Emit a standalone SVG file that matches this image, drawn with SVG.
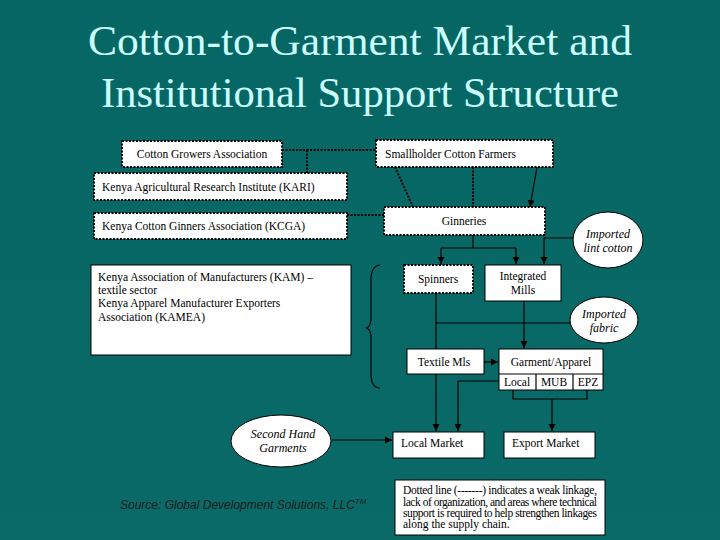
<svg xmlns="http://www.w3.org/2000/svg" width="720" height="540" viewBox="0 0 720 540">
<defs>
<marker id="ah" markerWidth="8" markerHeight="8" refX="7" refY="4" orient="auto" markerUnits="userSpaceOnUse">
<path d="M0,0.5 L7,4 L0,7.5 Z" fill="#000"/>
</marker>
<linearGradient id="bg" x1="0" y1="0" x2="0" y2="1">
<stop offset="0" stop-color="#066663"/>
<stop offset="1" stop-color="#0a6a67"/>
</linearGradient>
</defs>
<style>
text{font-family:'Liberation Serif','Times New Roman','DejaVu Serif',serif}
.title{font-size:43px;fill:#ccffff;text-anchor:middle}
.box{fill:#fff;stroke:#000;stroke-width:1}
.dbox{fill:#fff;stroke:#000;stroke-width:2;stroke-dasharray:2 1.5}
.t{font-size:11.5px;fill:#000}
.c{text-anchor:middle}
.i{font-style:italic;font-size:12px}
.ln{stroke:#000;stroke-width:1.2;fill:none}
.dl{stroke:#000;stroke-width:2;fill:none;stroke-dasharray:2 1.5}
.ell{fill:#fff;stroke:#000;stroke-width:1}
.src{font-family:'Liberation Sans',Arial,sans-serif;font-style:italic;font-size:12px;fill:#1a1a1a}
</style>
<rect x="0" y="0" width="720" height="540" fill="url(#bg)"/>
<text class="title" x="360" y="55" textLength="544" lengthAdjust="spacingAndGlyphs">Cotton-to-Garment Market and</text>
<text class="title" x="360" y="107" textLength="518" lengthAdjust="spacingAndGlyphs">Institutional Support Structure</text>

<g id="connectors">
<polyline class="dl" points="282,150 376,150"/>
<polyline class="dl" points="307,150 307,173"/>
<polyline class="dl" points="347,215 384,215"/>
<polyline class="dl" points="395,167 413,207"/>
<polyline class="dl" points="473,167 473,207"/>
<line class="ln" x1="537" y1="167" x2="530" y2="207" marker-end="url(#ah)"/>
<polyline class="ln" points="473,235 473,248"/>
<polyline class="ln" points="441,248 516,248"/>
<line class="ln" x1="441" y1="248" x2="441" y2="264" marker-end="url(#ah)"/>
<line class="ln" x1="516" y1="248" x2="516" y2="264" marker-end="url(#ah)"/>
<polyline class="ln" points="573,238 544,238 544,264" marker-end="url(#ah)"/>
<line class="ln" x1="436" y1="293" x2="436" y2="349"/>
<line class="ln" x1="436" y1="323" x2="570" y2="323"/>
<line class="ln" x1="524" y1="301" x2="524" y2="348" marker-end="url(#ah)"/>
<line class="ln" x1="484" y1="362" x2="498" y2="362" marker-end="url(#ah)"/>
<line class="ln" x1="436" y1="374" x2="436" y2="431" marker-end="url(#ah)"/>
<polyline class="ln" points="499,381 458,381 458,431" marker-end="url(#ah)"/>
<polyline class="ln" points="513,390 513,399 587,399 587,390"/>
<line class="ln" x1="552" y1="399" x2="552" y2="431" marker-end="url(#ah)"/>
<line class="ln" x1="332" y1="440" x2="392" y2="440" marker-end="url(#ah)"/>
<path class="ln" stroke-width="1.5" d="M380,265 Q371,266 371,280 L371,318 Q371,327 366,328 Q371,329 371,338 L371,374 Q371,388 380,388"/>
</g>

<g id="cotton-growers">
<rect class="dbox" x="122" y="141" width="160" height="26"/>
<text class="t c" x="202" y="158">Cotton Growers Association</text>
</g>
<g id="kari">
<rect class="dbox" x="94" y="173" width="253" height="27"/>
<text class="t" x="102" y="191">Kenya Agricultural Research Institute (KARI)</text>
</g>
<g id="kcga">
<rect class="dbox" x="94" y="213" width="253" height="26"/>
<text class="t" x="102" y="230">Kenya Cotton Ginners Association (KCGA)</text>
</g>
<g id="smallholder">
<rect class="dbox" x="376" y="140" width="177" height="27"/>
<text class="t" x="385" y="158">Smallholder Cotton Farmers</text>
</g>
<g id="ginneries">
<rect class="dbox" x="384" y="207" width="161" height="28"/>
<text class="t c" x="464" y="225">Ginneries</text>
</g>
<g id="imported-lint">
<ellipse class="ell" cx="608" cy="240" rx="35" ry="28"/>
<text class="t c i" x="608" y="238">Imported</text>
<text class="t c i" x="608" y="252">lint cotton</text>
</g>
<g id="spinners">
<rect class="dbox" x="404" y="265" width="69" height="28"/>
<text class="t c" x="438" y="283">Spinners</text>
</g>
<g id="integrated-mills">
<rect class="box" x="485" y="265" width="76" height="36"/>
<text class="t c" x="523" y="280">Integrated</text>
<text class="t c" x="523" y="294">Mills</text>
</g>
<g id="imported-fabric">
<ellipse class="ell" cx="604" cy="320" rx="34" ry="23"/>
<text class="t c i" x="604" y="318">Imported</text>
<text class="t c i" x="604" y="332">fabric</text>
</g>
<g id="kam">
<rect class="box" x="91" y="265" width="260" height="90" stroke-width="0.5"/>
<text class="t" x="98" y="281">Kenya Association of Manufacturers (KAM) –</text>
<text class="t" x="98" y="294">textile sector</text>
<text class="t" x="98" y="307">Kenya Apparel Manufacturer Exporters</text>
<text class="t" x="98" y="321">Association (KAMEA)</text>
</g>
<g id="textile-mills">
<rect class="box" x="407" y="349" width="77" height="25"/>
<text class="t c" x="444" y="366">Textile Mls</text>
</g>
<g id="garment">
<rect class="box" x="499" y="349" width="104" height="41"/>
<line class="ln" stroke-width="1" x1="499" y1="374" x2="603" y2="374"/>
<line class="ln" stroke-width="1" x1="536" y1="374" x2="536" y2="390"/>
<line class="ln" stroke-width="1" x1="573" y1="374" x2="573" y2="390"/>
<text class="t c" x="551" y="366">Garment/Apparel</text>
<text class="t c" x="517" y="386" font-size="8.5">Local</text>
<text class="t c" x="554" y="386" font-size="8.5">MUB</text>
<text class="t c" x="588" y="386" font-size="8.5">EPZ</text>
</g>
<g id="second-hand">
<ellipse class="ell" cx="281" cy="441" rx="50" ry="26"/>
<text class="t c i" x="283" y="438">Second Hand</text>
<text class="t c i" x="283" y="452">Garments</text>
</g>
<g id="local-market">
<rect class="box" x="393" y="432" width="91" height="26"/>
<text class="t" x="401" y="447">Local Market</text>
</g>
<g id="export-market">
<rect class="box" x="504" y="432" width="91" height="26"/>
<text class="t" x="512" y="447">Export Market</text>
</g>
<text class="src" x="120" y="509">Source: Global Development Solutions, LLC<tspan font-size="8" dy="-5">TM</tspan></text>
<g id="note">
<rect class="box" x="395" y="480" width="210" height="55" stroke-width="0.5"/>
<text class="t" x="403" y="494" font-size="10" textLength="194" lengthAdjust="spacing">Dotted line (-------) indicates a weak linkage,</text>
<text class="t" x="403" y="506" font-size="10" textLength="194" lengthAdjust="spacing">lack of organization, and areas where technical</text>
<text class="t" x="403" y="517" font-size="10" textLength="194" lengthAdjust="spacing">support is required to help strengthen linkages</text>
<text class="t" x="403" y="528" font-size="10">along the supply chain.</text>
</g>
</svg>
